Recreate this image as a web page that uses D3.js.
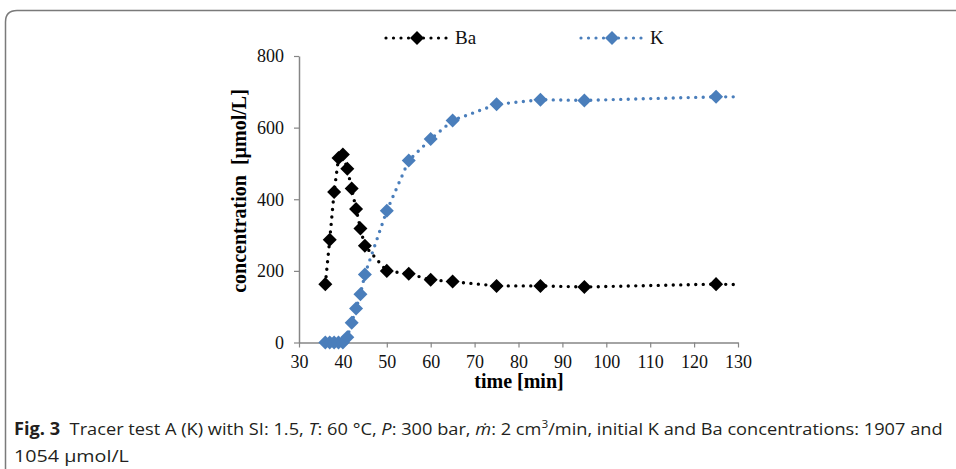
<!DOCTYPE html>
<html>
<head>
<meta charset="utf-8">
<script src="https://cdn.jsdelivr.net/npm/d3@7"></script>
<style>
  body { margin: 0; background: #fff; }
</style>
</head>
<body>
<div id="chart"></div>
<script>
// data (min, umol/L); last point sits past the axis end and is clipped
var timeBa = [36, 37, 38, 39, 40, 41, 42, 43, 44, 45, 50, 55, 60, 65, 75, 85, 95, 125, 135];
var ba     = [163, 287, 420, 515, 525, 485, 430, 373, 318, 270, 200, 192, 175, 170, 158, 158, 155, 163, 160];
var timeK  = [36, 37, 38, 39, 40, 41, 42, 43, 44, 45, 50, 55, 60, 65, 75, 85, 95, 125, 135];
var k      = [0, 0, 0, 0, 0, 15, 55, 95, 135, 190, 368, 508, 568, 620, 665, 678, 676, 686, 686];
var xTicks = [30, 40, 50, 60, 70, 80, 90, 100, 110, 120, 130];
var yTicks = [0, 200, 400, 600, 800];
var seriesNames = ["Ba", "K"];
var seriesColors = ["#000000", "#4a7ebb"];

var width = 956, height = 469;
var margin = {left: 299, top: 56, right: 956 - 738, bottom: 469 - 342.5};
var w = width - margin.left - margin.right, h = height - margin.top - margin.bottom;

var svg = d3.select("#chart").append("svg").attr("width", width).attr("height", height);

// figure frame (rounded, runs off right/bottom)
svg.append("path")
  .attr("d", "M5.5,480 L5.5,22 Q5.5,10.5 17,10.5 L970,10.5")
  .attr("fill", "none").attr("stroke", "#7a7a7a").attr("stroke-width", 1.5);

var g = svg.append("g").attr("transform", "translate(" + margin.left + "," + margin.top + ")");

var x = d3.scaleLinear().domain([30, 130]).range([0, w]);
var y = d3.scaleLinear().domain([0, 800]).range([h, 0]);

var axisColor = "#868686";
var tickFont = "'Liberation Serif', 'Times New Roman', serif";

var xAxis = g.append("g").attr("transform", "translate(0," + h + ")")
  .call(d3.axisBottom(x).tickValues(xTicks).tickSize(5).tickSizeOuter(0).tickPadding(6));
var yAxis = g.append("g")
  .call(d3.axisLeft(y).tickValues(yTicks).tickSize(5).tickSizeOuter(0).tickPadding(10));
[xAxis, yAxis].forEach(function(a) {
  a.select(".domain").attr("stroke", axisColor).attr("stroke-width", 1.5);
  a.selectAll(".tick line").attr("stroke", axisColor).attr("stroke-width", 1.2);
  a.selectAll(".tick text").attr("fill", "#111").style("font", "18px " + tickFont);
});
xAxis.selectAll(".tick text").attr("dy", "0.8em");

svg.append("text").attr("x", 519).attr("y", 388).attr("text-anchor", "middle")
  .style("font", "bold 20px " + tickFont).text("time [min]");
svg.append("text").attr("transform", "translate(246,191) rotate(-90)").attr("text-anchor", "middle")
  .attr("xml:space", "preserve")
  .style("font", "bold 20px " + tickFont).text("concentration  [\u00b5mol/L]");

g.append("clipPath").attr("id", "plotclip").append("rect")
  .attr("x", 0).attr("y", -10).attr("width", w).attr("height", h + 20);

var line = d3.line().x(function(d) { return x(d[0]); }).y(function(d) { return y(d[1]); });
var diamond = d3.symbol().type(d3.symbolDiamond2).size(125);

var series = [d3.zip(timeBa, ba), d3.zip(timeK, k)];
series.forEach(function(pts, i) {
  var sg = g.append("g").attr("clip-path", "url(#plotclip)");
  sg.append("path").datum(pts).attr("d", line)
    .attr("fill", "none").attr("stroke", seriesColors[i]).attr("stroke-width", 3.4)
    .attr("stroke-linecap", "round").attr("stroke-dasharray", "0 7.5");
  sg.selectAll(".m").data(pts.filter(function(d) { return d[0] <= 130; })).enter().append("path")
    .attr("transform", function(d) { return "translate(" + x(d[0]) + "," + y(d[1]) + ")"; })
    .attr("d", diamond).attr("fill", seriesColors[i]);
});

// legend
var legX = [385, 580];
seriesNames.forEach(function(name, i) {
  var lg = svg.append("g").attr("transform", "translate(" + legX[i] + ",38)");
  lg.append("line").attr("x1", 1).attr("x2", 62).attr("y1", 0).attr("y2", 0)
    .attr("stroke", seriesColors[i]).attr("stroke-width", 3.2)
    .attr("stroke-linecap", "round").attr("stroke-dasharray", "0 7.5");
  lg.append("path").attr("transform", "translate(32,0)").attr("d", diamond).attr("fill", seriesColors[i]);
  lg.append("text").attr("x", 70).attr("y", 6).style("font", "19px " + tickFont).attr("fill", "#111").text(name);
});

// caption
var capFont = "'Open Sans', 'Noto Sans', sans-serif";
function fitLine(t, target) {
  var len = t.node().getComputedTextLength();
  var x0 = +t.attr("x");
  t.attr("transform", "translate(" + x0 + ",0) scale(" + (target / len) + ",1) translate(" + (-x0) + ",0)");
}
var cap1 = svg.append("text").attr("x", 14).attr("y", 435).attr("fill", "#231f20")
  .style("font", "17px " + capFont).attr("xml:space", "preserve");
cap1.append("tspan").style("font-weight", "bold").text("Fig. 3");
cap1.append("tspan").text("  Tracer test A (K) with SI: 1.5, ");
cap1.append("tspan").style("font-style", "italic").text("T");
cap1.append("tspan").text(": 60 \u00b0C, ");
cap1.append("tspan").style("font-style", "italic").text("P");
cap1.append("tspan").text(": 300 bar, ");
cap1.append("tspan").style("font-style", "italic").text("\u1e41");
cap1.append("tspan").text(": 2 cm");
cap1.append("tspan").attr("dy", -7).style("font-size", "11px").text("3");
cap1.append("tspan").attr("dy", 7).text("/min, initial K and Ba concentrations: 1907 and");
fitLine(cap1, 929);
var cap2 = svg.append("text").attr("x", 14).attr("y", 462).attr("fill", "#231f20")
  .style("font", "17px " + capFont).text("1054 \u00b5mol/L");
fitLine(cap2, 115);
</script>
</body>
</html>
